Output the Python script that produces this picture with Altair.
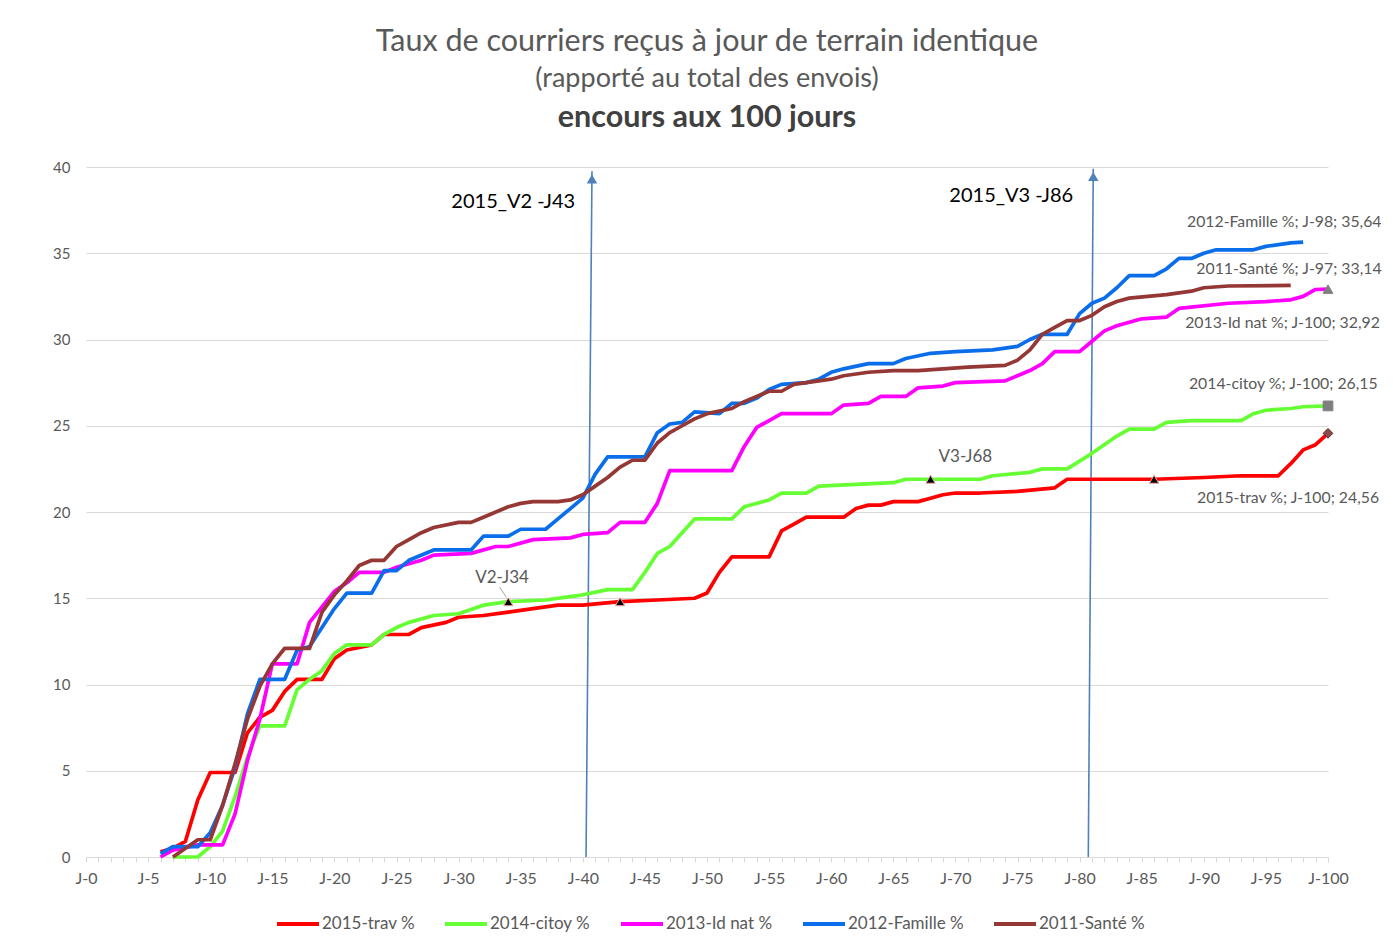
import altair as alt
import pandas as pd

# ---------------- data ----------------
SERIES = ["2015-trav %", "2014-citoy %", "2013-Id nat %", "2012-Famille %", "2011-Santé %"]
COLORS = ["#FF0000", "#66FF33", "#FF00FF", "#0A6EEB", "#953735"]

TRAV_2015 = [(6, 0.3), (7, 0.5), (8, 0.9), (9, 3.3), (10, 4.9), (12, 4.9), (13, 7.2), (14, 8.1),
             (15, 8.5), (16, 9.6), (17, 10.3), (19, 10.3), (20, 11.5), (21, 12.0), (23, 12.3),
             (24, 12.9), (26, 12.9), (27, 13.3), (29, 13.6), (30, 13.9), (32, 14.0), (34, 14.2),
             (36, 14.4), (38, 14.6), (40, 14.6), (43, 14.8), (46, 14.9), (49, 15.0), (50, 15.3),
             (51, 16.5), (52, 17.4), (55, 17.4), (56, 18.9), (57, 19.3), (58, 19.7), (61, 19.7),
             (62, 20.2), (63, 20.4), (64, 20.4), (65, 20.6), (67, 20.6), (68, 20.8), (69, 21.0),
             (70, 21.1), (72, 21.1), (75, 21.2), (78, 21.4), (79, 21.9), (82, 21.9), (86, 21.9),
             (90, 22.0), (93, 22.1), (96, 22.1), (97, 22.8), (98, 23.6), (99, 23.9), (100, 24.56)]

CITOY_2014 = [(7, 0.0), (9, 0.0), (10, 0.6), (11, 1.5), (12, 3.5), (13, 5.8), (14, 7.6), (16, 7.6),
              (17, 9.7), (18, 10.3), (19, 10.8), (20, 11.8), (21, 12.3), (23, 12.3), (24, 12.9),
              (25, 13.3), (26, 13.6), (28, 14.0), (30, 14.1), (32, 14.6), (34, 14.8), (37, 14.9),
              (40, 15.2), (42, 15.5), (44, 15.5), (45, 16.5), (46, 17.6), (47, 18.0), (49, 19.6),
              (52, 19.6), (53, 20.3), (55, 20.7), (56, 21.1), (58, 21.1), (59, 21.5), (62, 21.6),
              (65, 21.7), (66, 21.9), (68, 21.9), (72, 21.9), (73, 22.1), (76, 22.3), (77, 22.5),
              (79, 22.5), (81, 23.4), (83, 24.4), (84, 24.8), (86, 24.8), (87, 25.2), (89, 25.3),
              (93, 25.3), (94, 25.7), (95, 25.9), (97, 26.0), (98, 26.1), (100, 26.15)]

IDNAT_2013 = [(6, 0.0), (7, 0.4), (9, 0.7), (11, 0.7), (12, 2.5), (13, 5.6), (14, 8.0), (15, 11.2),
              (17, 11.2), (18, 13.6), (19, 14.5), (20, 15.4), (21, 15.9), (22, 16.5), (24, 16.5),
              (25, 16.8), (27, 17.2), (28, 17.5), (31, 17.6), (33, 18.0), (34, 18.0), (36, 18.4),
              (39, 18.5), (40, 18.7), (42, 18.8), (43, 19.4), (45, 19.4), (46, 20.5), (47, 22.4),
              (52, 22.4), (53, 23.8), (54, 24.9), (55, 25.3), (56, 25.7), (60, 25.7), (61, 26.2),
              (63, 26.3), (64, 26.7), (66, 26.7), (67, 27.2), (69, 27.3), (70, 27.5), (74, 27.6),
              (75, 27.9), (76, 28.2), (77, 28.6), (78, 29.3), (80, 29.3), (81, 29.9), (82, 30.5),
              (83, 30.8), (85, 31.2), (87, 31.3), (88, 31.8), (92, 32.1), (95, 32.2), (97, 32.3),
              (98, 32.5), (99, 32.9), (100, 32.92)]

FAMILLE_2012 = [(6, 0.2), (7, 0.6), (9, 0.6), (10, 1.4), (11, 3.0), (12, 5.2), (13, 8.3), (14, 10.3),
                (16, 10.3), (17, 12.0), (18, 12.2), (19, 13.3), (20, 14.4), (21, 15.3), (23, 15.3),
                (24, 16.6), (25, 16.6), (26, 17.2), (28, 17.8), (31, 17.8), (32, 18.6), (34, 18.6),
                (35, 19.0), (37, 19.0), (38, 19.6), (39, 20.2), (40, 20.8), (41, 22.2), (42, 23.2),
                (45, 23.2), (46, 24.6), (47, 25.1), (48, 25.2), (49, 25.8), (51, 25.7), (52, 26.3),
                (53, 26.3), (54, 26.6), (55, 27.1), (56, 27.4), (58, 27.5), (59, 27.7), (60, 28.1),
                (61, 28.3), (63, 28.6), (65, 28.6), (66, 28.9), (68, 29.2), (70, 29.3), (73, 29.4),
                (75, 29.6), (76, 30.0), (77, 30.3), (79, 30.3), (80, 31.5), (81, 32.1), (82, 32.4),
                (83, 33.0), (84, 33.7), (86, 33.7), (87, 34.1), (88, 34.7), (89, 34.7), (90, 35.0),
                (91, 35.2), (94, 35.2), (95, 35.4), (97, 35.6), (98, 35.64)]

SANTE_2011 = [(7, 0.0), (9, 1.0), (10, 1.0), (11, 3.0), (12, 5.4), (13, 8.0), (14, 9.9), (15, 11.2),
              (16, 12.1), (18, 12.1), (19, 14.2), (20, 15.2), (21, 16.0), (22, 16.9), (23, 17.2),
              (24, 17.2), (25, 18.0), (26, 18.4), (27, 18.8), (28, 19.1), (30, 19.4), (31, 19.4),
              (32, 19.7), (33, 20.0), (34, 20.3), (35, 20.5), (36, 20.6), (38, 20.6), (39, 20.7),
              (40, 21.0), (41, 21.5), (42, 22.0), (43, 22.6), (44, 23.0), (45, 23.0), (46, 24.0),
              (47, 24.6), (48, 25.0), (49, 25.4), (50, 25.7), (52, 26.0), (53, 26.4), (54, 26.7),
              (55, 27.0), (56, 27.0), (57, 27.4), (58, 27.5), (60, 27.7), (61, 27.9), (62, 28.0),
              (63, 28.1), (65, 28.2), (67, 28.2), (69, 28.3), (71, 28.4), (74, 28.5), (75, 28.8),
              (76, 29.4), (77, 30.3), (78, 30.7), (79, 31.1), (80, 31.1), (81, 31.4), (82, 31.9),
              (83, 32.2), (84, 32.4), (87, 32.6), (89, 32.8), (90, 33.0), (92, 33.1), (97, 33.14)]

# milestone markers (series, day)
JALONS = [("2014-citoy %", 34), ("2015-trav %", 43), ("2014-citoy %", 68), ("2015-trav %", 86)]
JALON_LABELS = ["V2-J34", "V3-J68"]
# last-point markers (series, shape)
FIN_SERIES = ["2013-Id nat %", "2014-citoy %", "2015-trav %"]
FIN_SHAPES = ["triangle-up", "square", "diamond"]

END_LABELS = ["2012-Famille %; J-98; 35,64", "2011-Santé %; J-97; 33,14",
              "2013-Id nat %; J-100; 32,92", "2014-citoy %; J-100; 26,15",
              "2015-trav %; J-100; 24,56"]
ARROW_LABELS = ["2015_V2 -J43", "2015_V3 -J86"]

TITLE_1 = "Taux de courriers reçus à jour de terrain identique"
TITLE_2 = "(rapporté au total des envois)"
TITLE_3 = "encours aux 100 jours"

X_TICKS = list(range(0, 101))
Y_TICKS = [0, 5, 10, 15, 20, 25, 30, 35, 40]

# ---------------- tables ----------------
all_pts = dict(zip(SERIES, [TRAV_2015, CITOY_2014, IDNAT_2013, FAMILLE_2012, SANTE_2011]))
rows = []
for i, name in enumerate(SERIES):
    for d, v in all_pts[name]:
        rows.append({"serie": name, "jour": d, "taux": v, "rang": i})
df = pd.DataFrame(rows)


def value_at(name, day):
    return dict(all_pts[name])[day]


jalons = pd.DataFrame([{"serie": s, "jour": d, "taux": value_at(s, d)} for s, d in JALONS])
fins = pd.DataFrame([{"serie": s, "jour": all_pts[s][-1][0], "taux": all_pts[s][-1][1], "shape": sh}
                     for s, sh in zip(FIN_SERIES, FIN_SHAPES)])

# annotation anchors (day, value units)
end_lab = pd.DataFrame({"t": END_LABELS,
                        "jour": [88.65, 89.4, 88.5, 88.8, 89.45],
                        "taux": [36.8, 34.1, 30.95, 27.4, 20.8]})
jal_lab = pd.DataFrame({"t": JALON_LABELS, "jour": [33.5, 70.8], "taux": [16.2, 23.2]})
arrow_lab = pd.DataFrame({"t": ARROW_LABELS, "jour": [34.4, 74.5], "taux": [38.0, 38.3]})
arrows = pd.DataFrame({"x": [40.26, 80.7], "x2": [40.74, 81.1], "y": [0, 0], "y2": [39.75, 39.9]})
heads = pd.DataFrame({"x": [40.74, 81.1], "y": [39.3, 39.45]})
leader = pd.DataFrame({"x": [33.3], "x2": [33.85], "y": [15.65], "y2": [15.05]})

FONT = "Lato"
GREY = "#595959"

xscale = alt.Scale(domain=[0, 100], nice=False, zero=False)
yscale = alt.Scale(domain=[0, 40], nice=False)

X = alt.X("jour:Q", scale=xscale, title=None,
          axis=alt.Axis(values=X_TICKS, tickCount=len(X_TICKS),
                        labelExpr="datum.value % 5 == 0 ? 'J-' + datum.value : ''",
                        labelOverlap=False, grid=False, domainColor="#D9D9D9", tickColor="#D9D9D9",
                        tickSize=5, labelPadding=8, labelFontSize=16, labelColor=GREY, labelFont=FONT,
                        labelFlush=False))
Y = alt.Y("taux:Q", scale=yscale, title=None,
          axis=alt.Axis(values=Y_TICKS, grid=True, gridColor="#D9D9D9", domain=False, ticks=False,
                        tickSize=0, labelPadding=16, labelFontSize=15, labelColor=GREY, labelFont=FONT))

lines = alt.Chart(df).mark_line(strokeWidth=3.7, strokeJoin="round").encode(
    x=X, y=Y,
    color=alt.Color("serie:N", scale=alt.Scale(domain=SERIES, range=COLORS),
                    legend=alt.Legend(orient="none", legendX=189, legendY=734, direction="horizontal",
                                      title=None, symbolType="stroke", symbolSize=1764,
                                      symbolStrokeWidth=4, labelFontSize=17, labelColor=GREY,
                                      labelFont=FONT, columnPadding=22, labelOffset=1, columns=5)),
    order="rang:Q",
)

arrow_rules = alt.Chart(arrows).mark_rule(color="#4F81BD", strokeWidth=1.6).encode(
    x=alt.X("x:Q", scale=xscale), x2="x2:Q", y=alt.Y("y:Q", scale=yscale), y2="y2:Q")
arrow_heads = alt.Chart(heads).mark_point(shape="triangle-up", filled=True, size=110,
                                          color="#4F81BD", opacity=1).encode(
    x=alt.X("x:Q", scale=xscale), y=alt.Y("y:Q", scale=yscale))

jal_red = alt.Chart(jalons).mark_point(shape="triangle-up", filled=True, size=85, color="black",
                                       stroke="#E8A0A0", strokeWidth=1, opacity=1).encode(
    x=alt.X("jour:Q", scale=xscale), y=alt.Y("taux:Q", scale=yscale))

fin_marks = alt.Chart(fins).mark_point(filled=True, size=95, opacity=1, strokeWidth=1).encode(
    x=alt.X("jour:Q", scale=xscale), y=alt.Y("taux:Q", scale=yscale),
    shape=alt.Shape("shape:N", scale=None, legend=None),
    fill=alt.Fill("serie:N", scale=alt.Scale(domain=FIN_SERIES, range=["#7F7F7F", "#7F7F7F", "#8C4A4A"]),
                  legend=None),
    stroke=alt.Stroke("serie:N", scale=alt.Scale(domain=FIN_SERIES, range=["#7F7F7F", "#7F7F7F", "#5A2A2A"]),
                      legend=None),
)

leader_rule = alt.Chart(leader).mark_rule(color="#A6A6A6", strokeWidth=1).encode(
    x=alt.X("x:Q", scale=xscale), x2="x2:Q", y=alt.Y("y:Q", scale=yscale), y2="y2:Q")

end_text = alt.Chart(end_lab).mark_text(align="left", baseline="middle", font=FONT, fontSize=15.8,
                                        color=GREY).encode(
    x=alt.X("jour:Q", scale=xscale), y=alt.Y("taux:Q", scale=yscale), text="t:N")
jal_text = alt.Chart(jal_lab).mark_text(align="center", baseline="middle", font=FONT, fontSize=17,
                                        color=GREY).encode(
    x=alt.X("jour:Q", scale=xscale), y=alt.Y("taux:Q", scale=yscale), text="t:N")
arrow_text = alt.Chart(arrow_lab).mark_text(align="center", baseline="middle", font=FONT, fontSize=20,
                                            color="black").encode(
    x=alt.X("jour:Q", scale=xscale), y=alt.Y("taux:Q", scale=yscale), text="t:N")


def title_line(txt, ypix, size, weight, color):
    return alt.Chart(pd.DataFrame({"t": [txt]})).mark_text(
        align="center", baseline="middle", font=FONT, fontSize=size, fontWeight=weight, color=color
    ).encode(text="t:N", x=alt.value(621), y=alt.value(ypix))


t1 = title_line(TITLE_1, -125, 30.5, "normal", GREY)
t2 = title_line(TITLE_2, -88, 27, "normal", GREY)
t3 = title_line(TITLE_3, -49, 30.5, "bold", "#404040")

chart = alt.layer(
    arrow_rules, arrow_heads, lines, leader_rule, jal_red, fin_marks,
    end_text, jal_text, arrow_text, t1, t2, t3
).properties(
    width=1242, height=690,
    autosize=alt.AutoSizeParams(type="none"),
    padding={"left": 78, "top": 159, "right": 57, "bottom": 88},
    background="white",
).configure_view(stroke=None)

chart.save("out.html", embed_options={"renderer": "svg", "actions": False})
